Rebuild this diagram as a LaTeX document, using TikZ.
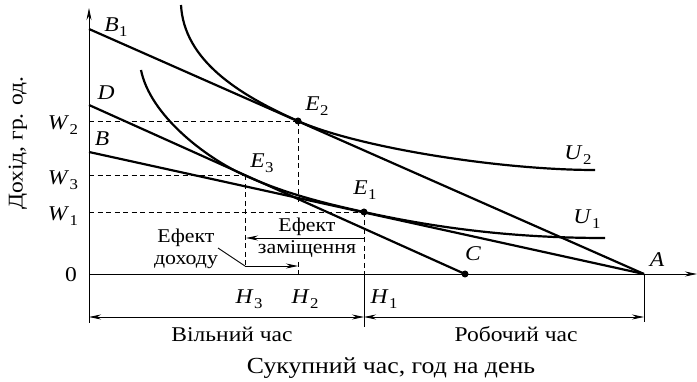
\documentclass[tikz,border=0pt]{standalone}
\usepackage{fontspec}
\setmainfont{Liberation Serif}[FakeStretch=1.12]
\usetikzlibrary{arrows.meta}
\newcommand{\lab}[2]{\textit{#1}\kern0.5pt\raisebox{-5pt}{\fontsize{15}{15}\selectfont #2}}
\begin{document}
\begin{tikzpicture}[x=1pt,y=-1pt,
  thickline/.style={line width=2.2pt},
  axisline/.style={line width=0.9pt},
  guide/.style={line width=0.9pt, dash pattern=on 5pt off 3.5pt},
  lbl/.style={font=\fontsize{21}{24}\selectfont, inner sep=0pt},
  txt/.style={font=\fontsize{21}{24}\selectfont, inner sep=0pt, align=center},
  eff/.style={font=\fontsize{19.5}{22}\selectfont, inner sep=0pt, align=center},
  tipA/.tip={Stealth[length=12pt,width=5pt]},
  dot/.style={circle, fill=black, inner sep=0pt, minimum size=7pt}
]
\useasboundingbox (0,0) rectangle (697,382);
% coordinates
\coordinate (O) at (89,274);
\coordinate (Ytop) at (89,8);
\coordinate (Ybot) at (89,323);
\coordinate (Xend) at (697,274);
\coordinate (A) at (644,274);
\coordinate (Abot) at (644,322);
\coordinate (B1) at (89,29);
\coordinate (D) at (89,105);
\coordinate (B) at (89,152);
\coordinate (C) at (465,274);
\coordinate (E1) at (364,212);
\coordinate (E2) at (298,121);
\coordinate (E3) at (245,175.5);
\coordinate (W1) at (89,212);
\coordinate (W2) at (89,121);
\coordinate (W3) at (89,175.5);
\coordinate (H1) at (364,274);
\coordinate (H2) at (298,274);
\coordinate (H2a) at (298,205);
\coordinate (H2b) at (298,262);
\coordinate (H3) at (245,266);
\coordinate (H1bot) at (364,327);
\coordinate (L1) at (89,317);
\coordinate (M1) at (364,317);
\coordinate (R1) at (644,317);
\coordinate (S1) at (364,238);
\coordinate (S2) at (246,238);
\coordinate (I0) at (218,248);
\coordinate (I2) at (298,266);
% guides
\draw[guide] (W2) -- (E2);
\draw[guide] (W3) -- (E3);
\draw[guide] (W1) -- (E1);
\draw[guide] (E2) -- (H2a);
\draw[guide] (H2b) -- (H2);
\draw[guide] (E3) -- (H3);
\draw[guide] (E1) -- (H1);
% axes
\draw[axisline,-{tipA}] (Ybot) -- (Ytop);
\draw[axisline,-{tipA}] (O) -- (Xend);
\draw[axisline] (A) -- (Abot);
\draw[axisline] (H1) -- (H1bot);
\draw[axisline,{tipA}-{tipA}] (L1) -- (M1);
\draw[axisline,{tipA}-{tipA}] (M1) -- (R1);
% budget lines
\draw[thickline] (B1) -- (A);
\draw[thickline] (B) -- (A);
\draw[thickline] (D) -- (C);
% indifference curves
\draw[thickline] (181,5) .. controls (184,60) and (238,94.5) .. (E2)
  .. controls (358,147.5) and (500,170) .. (595,170);
\draw[thickline] (141,70) .. controls (150,115) and (205,157.5) .. (E3)
  .. controls (285,193.5) and (324,203.2) .. (E1)
  .. controls (444,229.6) and (520,238) .. (605,238);
% points
\node[dot] (pE1) at (E1) {};
\node[dot] (pE2) at (E2) {};
\node[dot] (pC) at (C) {};
% effects arrows
\draw[axisline,-{tipA}] (S1) -- (S2);
\draw[axisline] (I0) -- (H3);
\draw[axisline,-{tipA}] (H3) -- (I2);
% labels
\node[lbl] (tB1) at (116,27) {\lab{B}{1}};
\node[lbl] (tD) at (106,93) {\textit{D}};
\node[lbl] (tB) at (102,139) {\textit{B}};
\node[lbl] (tE2) at (317,106) {\lab{E}{2}};
\node[lbl] (tE3) at (262,163) {\lab{E}{3}};
\node[lbl] (tE1) at (365,190) {\lab{E}{1}};
\node[lbl] (tU2) at (578,155) {\lab{U}{2}};
\node[lbl] (tU1) at (587,219) {\lab{U}{1}};
\node[lbl] (tC) at (473,254) {\textit{C}};
\node[lbl] (tA) at (657,260) {\textit{A}};
\node[lbl] (tW2) at (63,125) {\lab{W}{2}};
\node[lbl] (tW3) at (63,180) {\lab{W}{3}};
\node[lbl] (tW1) at (63,216) {\lab{W}{1}};
\node[lbl] (t0) at (71,275) {0};
\node[lbl] (tH3) at (249,299) {\lab{H}{3}};
\node[lbl] (tH2) at (305,299) {\lab{H}{2}};
\node[lbl] (tH1) at (384,299) {\lab{H}{1}};
\node[eff] (tSub1) at (307,227) {Ефект};
\node[eff] (tSub2) at (307,249) {заміщення};
\node[eff] (tInc) at (186,249) {Ефект\\доходу};
\node[txt] (tFree) at (232,334) {Вільний час};
\node[txt] (tWork) at (516,334) {Робочий час};
\node[txt, font=\fontsize{23}{26}\selectfont] (tTotal) at (391,368) {Сукупний час, год на день};
\node[txt, rotate=90] (tInc2) at (18,143) {Дохід, гр. од.};
\end{tikzpicture}
\end{document}
